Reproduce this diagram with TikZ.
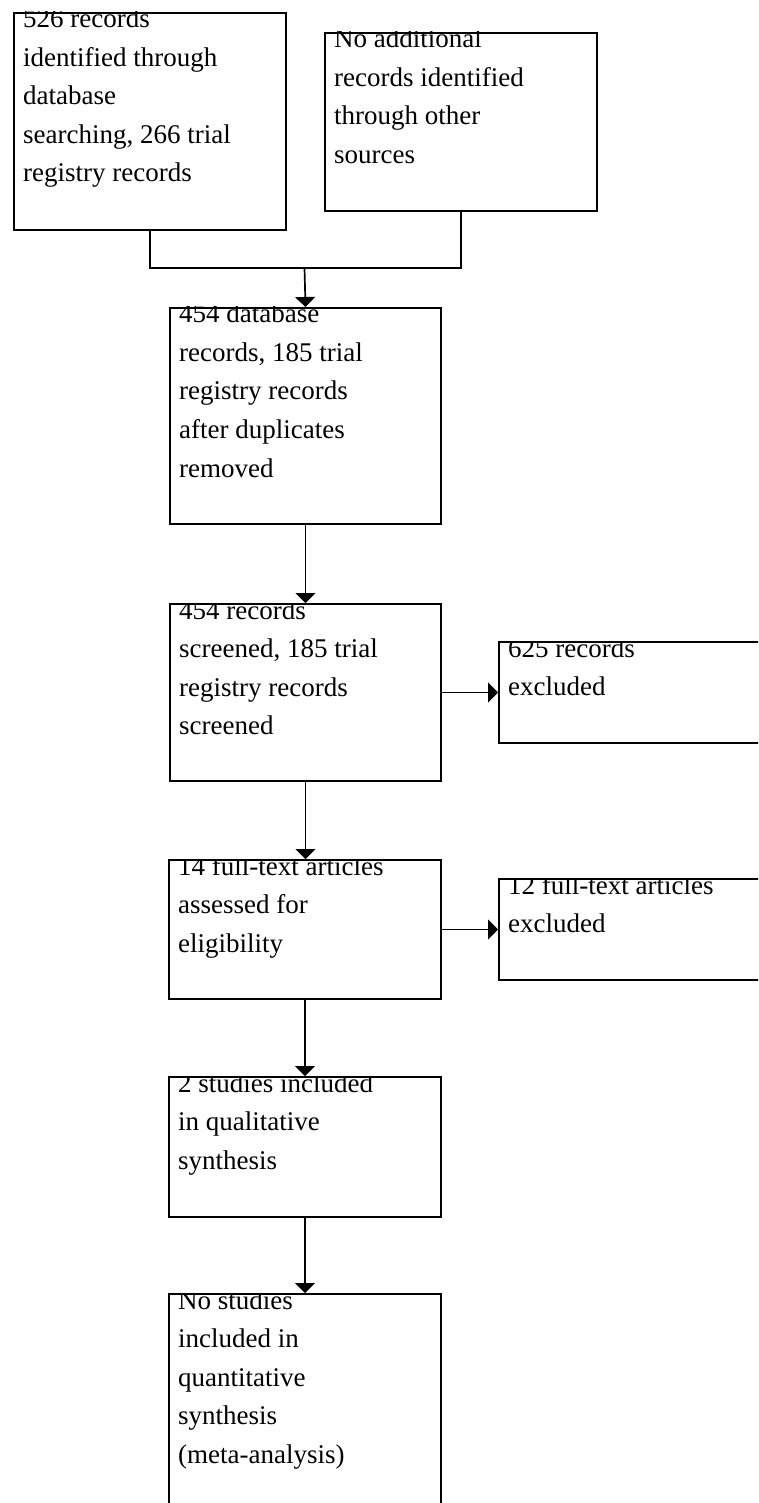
\documentclass[tikz,border=0pt]{standalone}
\usepackage{fontspec}
\setmainfont{Liberation Serif}
\usetikzlibrary{arrows.meta}
\begin{document}
\begin{tikzpicture}[x=1pt,y=-1pt,
  flowbox/.style={draw, line width=2pt, inner sep=0pt, anchor=north west},
  boxtext/.style={anchor=base west, inner sep=0pt, font=\fontsize{27}{38.5}\selectfont},
  conn/.style={line width=1.7pt},
  arr/.style={conn, -{Triangle[width=20pt,length=10pt]}}]
\useasboundingbox (0,0) rectangle (758,1503);
\clip (0,0) rectangle (758,1503);

% boxes
\node[flowbox, minimum width=272pt, minimum height=217pt] (b1) at (13,12) {};
\node[flowbox, minimum width=272pt, minimum height=178pt] (b2) at (324,32) {};
\node[flowbox, minimum width=271pt, minimum height=216pt] (b3) at (169,307) {};
\node[flowbox, minimum width=271pt, minimum height=177pt] (b4) at (169,603) {};
\node[flowbox, minimum width=302pt, minimum height=101pt] (b5) at (498,641) {};
\node[flowbox, minimum width=272pt, minimum height=139pt] (b6) at (168,859) {};
\node[flowbox, minimum width=302pt, minimum height=101pt] (b7) at (498,878) {};
\node[flowbox, minimum width=272pt, minimum height=140pt] (b8) at (168,1076) {};
\node[flowbox, minimum width=272pt, minimum height=250pt] (b9) at (168,1293) {};

% texts (clipped to their boxes)
\begin{scope}\clip (b1.north west) rectangle (b1.south east);
\node[boxtext] (t1) at (23,28) {\parbox[t]{300pt}{\raggedright 526 records\\identified through\\database\\searching, 266 trial\\registry records}};
\end{scope}
\begin{scope}\clip (b2.north west) rectangle (b2.south east);
\node[boxtext] (t2) at (334,48) {\parbox[t]{300pt}{\raggedright No additional\\records identified\\through other\\sources}};
\end{scope}
\begin{scope}\clip (b3.north west) rectangle (b3.south east);
\node[boxtext] (t3) at (179,323) {\parbox[t]{300pt}{\raggedright 454 database\\records, 185 trial\\registry records\\after duplicates\\removed}};
\end{scope}
\begin{scope}\clip (b4.north west) rectangle (b4.south east);
\node[boxtext] (t4) at (179,619) {\parbox[t]{300pt}{\raggedright 454 records\\screened, 185 trial\\registry records\\screened}};
\end{scope}
\begin{scope}\clip (b5.north west) rectangle (b5.south east);
\node[boxtext] (t5) at (508,657) {\parbox[t]{300pt}{\raggedright 625 records\\excluded}};
\end{scope}
\begin{scope}\clip (b6.north west) rectangle (b6.south east);
\node[boxtext] (t6) at (178,875) {\parbox[t]{300pt}{\raggedright 14 full-text articles\\assessed for\\eligibility}};
\end{scope}
\begin{scope}\clip (b7.north west) rectangle (b7.south east);
\node[boxtext] (t7) at (508,894) {\parbox[t]{300pt}{\raggedright 12 full-text articles\\excluded}};
\end{scope}
\begin{scope}\clip (b8.north west) rectangle (b8.south east);
\node[boxtext] (t8) at (178,1092) {\parbox[t]{300pt}{\raggedright 2 studies included\\in qualitative\\synthesis}};
\end{scope}
\begin{scope}\clip (b9.north west) rectangle (b9.south east);
\node[boxtext] (t9) at (178,1309) {\parbox[t]{300pt}{\raggedright No studies\\included in\\quantitative\\synthesis\\(meta-analysis)}};
\end{scope}

% connectors
\coordinate (j) at (304.5,268);
\draw[conn] (b1.south) |- (j) -| (b2.south);
\draw[arr] (j) -- (b3.north);
\draw[arr] (b3.south) -- (b4.north);
\draw[arr] (b4.east) -- (b5.west);
\draw[arr] (b4.south) -- (b4.south |- b6.north);
\draw[arr] (b6.east) -- (b7.west);
\draw[arr] (b6.south) -- (b8.north);
\draw[arr] (b8.south) -- (b9.north);
\end{tikzpicture}
\end{document}
